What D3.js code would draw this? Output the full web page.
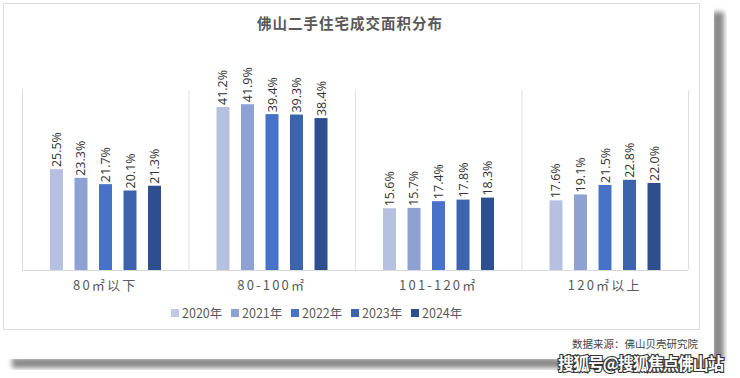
<!DOCTYPE html>
<html><head><meta charset="utf-8">
<script src="https://cdn.jsdelivr.net/npm/d3@7"></script>
<style>
body{margin:0;background:#fff;}
svg{display:block;font-family:"Noto Sans CJK SC","Noto Sans",sans-serif;}
</style></head>
<body>
<svg id="c" width="740" height="378"></svg>
<script>
const categories = ["80㎡以下", "80-100㎡", "101-120㎡", "120㎡以上"];
const years = ["2020年", "2021年", "2022年", "2023年", "2024年"];
const v2020 = [25.5, 41.2, 15.6, 17.6];
const v2021 = [23.3, 41.9, 15.7, 19.1];
const v2022 = [21.7, 39.4, 17.4, 21.5];
const v2023 = [20.1, 39.3, 17.8, 22.8];
const v2024 = [21.3, 38.4, 18.3, 22.0];
const series = [v2020, v2021, v2022, v2023, v2024];
const colors = ["#b6c1e2", "#8ea1d3", "#4673c7", "#3c63ae", "#2e4f8e"];
const title = "佛山二手住宅成交面积分布";
const source = "数据来源：佛山贝壳研究院";
const watermark = "搜狐号@搜狐焦点佛山站";

const svg = d3.select("#c");
const defs = svg.append("defs");
const fl = defs.append("filter").attr("id","blur").attr("x","-20%").attr("y","-20%").attr("width","140%").attr("height","140%");
fl.append("feGaussianBlur").attr("stdDeviation",2.5);

// shadows of the photographed card
svg.append("rect").attr("x",712).attr("y",12).attr("width",12).attr("height",350).attr("fill","#8a8a8a").attr("filter","url(#blur)");
svg.append("rect").attr("x",12).attr("y",358).attr("width",708).attr("height",10).attr("fill","#8a8a8a").attr("filter","url(#blur)");
svg.append("rect").attr("x",0).attr("y",0).attr("width",714).attr("height",359).attr("fill","#fff");

// inner card
svg.append("rect").attr("x",3.5).attr("y",3.5).attr("width",696).attr("height",326)
  .attr("fill","#fff").attr("stroke","#dcdcdc").attr("stroke-width",1);

svg.append("text").attr("x",350).attr("y",29).attr("text-anchor","middle")
  .attr("font-size",14.5).attr("font-weight","bold").attr("fill","#595959").attr("letter-spacing",1).text(title);

const x0 = d3.scaleBand().domain(categories).range([22, 688]).paddingInner(0).paddingOuter(0);
const x1 = d3.scaleBand().domain(years).range([28, 139]).paddingInner(0.47).paddingOuter(0);
const y = d3.scaleLinear().domain([0, 45.5]).range([270, 90]);

// category separators
const seps = categories.map(c => x0(c)).concat([x0.range()[1]]);
svg.append("g").selectAll("line").data(seps).join("line")
  .attr("x1", d=>d+0.5).attr("x2", d=>d+0.5).attr("y1", y(45.5)).attr("y2", y(0))
  .attr("stroke","#e0e0e0").attr("stroke-width",1);
// baseline
svg.append("line").attr("x1",22).attr("x2",688).attr("y1",y(0)+0.5).attr("y2",y(0)+0.5)
  .attr("stroke","#d9d9d9").attr("stroke-width",1);

const g = svg.append("g");
series.forEach((vals, si) => {
  const yr = years[si];
  vals.forEach((v, ci) => {
    const cx = x0(categories[ci]) + x1(yr);
    g.append("rect").attr("x", cx).attr("y", y(v)).attr("width", x1.bandwidth())
      .attr("height", y(0) - y(v)).attr("fill", colors[si]);
    const tx = cx + x1.bandwidth()/2, ty = y(v) - 2;
    g.append("text").attr("transform", `translate(${tx + 4.5},${ty}) rotate(-90)`)
      .attr("font-size", 12.5).attr("fill", "#333").attr("font-family","'Open Sans','Noto Sans',sans-serif")
      .text(v.toFixed(1) + "%");
  });
});

// category axis labels
svg.append("g").selectAll("text").data(categories).join("text")
  .attr("x", d => x0(d) + x0.bandwidth()/2).attr("y", 290).attr("text-anchor","middle")
  .attr("font-size", 13).attr("fill","#595959").attr("letter-spacing", 2.2).text(d => d);

// legend
const lg = svg.append("g");
years.forEach((yr, i) => {
  const lx = 171 + i * 60;
  lg.append("rect").attr("x", lx).attr("y", 309).attr("width", 8).attr("height", 8).attr("fill", i===0 ? "#c3c8e4" : colors[i]);
  lg.append("text").attr("x", lx + 11).attr("y", 318).attr("font-size", 12.5).attr("fill","#595959").text(yr);
});

svg.append("text").attr("x", 698).attr("y", 348).attr("text-anchor","end")
  .attr("font-size", 10.5).attr("fill","#444").text(source);

svg.append("text").attr("x", 558).attr("y", 370).attr("font-size", 16.5).attr("font-weight","bold")
  .attr("fill","#fff").attr("stroke","#333").attr("stroke-width",2.2).attr("paint-order","stroke")
  .attr("textLength", 166).text(watermark);
</script>
</body></html>
